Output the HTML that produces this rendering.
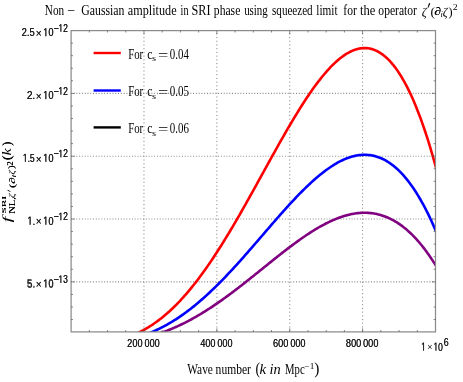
<!DOCTYPE html><html><head><meta charset="utf-8"><style>html,body{margin:0;padding:0;background:#fff}svg{display:block;will-change:transform}text{white-space:pre}</style></head><body>
<svg width="463" height="382" viewBox="0 0 463 382">
<rect width="463" height="382" fill="#fff"/>
<defs><clipPath id="c"><rect x="71.1" y="30.6" width="364.4" height="301.3"/></clipPath></defs>
<g stroke="#858585" fill="none">
<line x1="143.98" y1="331.9" x2="143.98" y2="30.6" stroke-width="1.0" stroke-dasharray="1.1 2.61" stroke-dashoffset="3.04"/>
<line x1="216.86" y1="331.9" x2="216.86" y2="30.6" stroke-width="1.0" stroke-dasharray="1.1 2.61" stroke-dashoffset="3.04"/>
<line x1="289.74" y1="331.9" x2="289.74" y2="30.6" stroke-width="1.0" stroke-dasharray="1.1 2.61" stroke-dashoffset="3.04"/>
<line x1="362.62" y1="331.9" x2="362.62" y2="30.6" stroke-width="1.0" stroke-dasharray="1.1 2.61" stroke-dashoffset="3.04"/>
<line x1="71.1" y1="281.85" x2="435.5" y2="281.85" stroke-width="1.1" stroke-dasharray="0.95 1.83" stroke-dashoffset="0.3"/>
<line x1="71.1" y1="219.03" x2="435.5" y2="219.03" stroke-width="1.1" stroke-dasharray="0.95 1.83" stroke-dashoffset="0.3"/>
<line x1="71.1" y1="156.20" x2="435.5" y2="156.20" stroke-width="1.1" stroke-dasharray="0.95 1.83" stroke-dashoffset="0.3"/>
<line x1="71.1" y1="93.38" x2="435.5" y2="93.38" stroke-width="1.1" stroke-dasharray="0.95 1.83" stroke-dashoffset="0.3"/>
</g>
<g clip-path="url(#c)" fill="none" stroke-width="2.6" stroke-linejoin="round">
<path d="M114.78,343.07 L116.24,342.90 L117.69,342.72 L119.15,342.54 L120.60,342.35 L122.06,342.15 L123.52,341.94 L124.97,341.73 L126.43,341.50 L127.88,341.27 L129.34,341.03 L130.80,340.77 L132.25,340.51 L133.71,340.24 L135.16,339.95 L136.62,339.66 L138.08,339.35 L139.53,339.04 L140.99,338.71 L142.44,338.37 L143.90,338.01 L145.36,337.65 L146.81,337.27 L148.27,336.89 L149.72,336.48 L151.18,336.07 L152.64,335.64 L154.09,335.20 L155.55,334.75 L157.00,334.28 L158.46,333.81 L159.92,333.31 L161.37,332.81 L162.83,332.29 L164.28,331.75 L165.74,331.21 L167.20,330.64 L168.65,330.07 L170.11,329.48 L171.56,328.88 L173.02,328.26 L174.48,327.63 L175.93,326.99 L177.39,326.33 L178.84,325.66 L180.30,324.98 L181.76,324.28 L183.21,323.57 L184.67,322.84 L186.12,322.10 L187.58,321.35 L189.04,320.58 L190.49,319.80 L191.95,319.01 L193.40,318.21 L194.86,317.39 L196.32,316.56 L197.77,315.71 L199.23,314.86 L200.68,313.99 L202.14,313.11 L203.60,312.21 L205.05,311.31 L206.51,310.39 L207.96,309.46 L209.42,308.52 L210.88,307.57 L212.33,306.61 L213.79,305.63 L215.24,304.65 L216.70,303.66 L218.16,302.65 L219.61,301.64 L221.07,300.61 L222.52,299.58 L223.98,298.54 L225.44,297.48 L226.89,296.42 L228.35,295.36 L229.80,294.28 L231.26,293.19 L232.72,292.10 L234.17,291.00 L235.63,289.90 L237.08,288.78 L238.54,287.66 L240.00,286.54 L241.45,285.41 L242.91,284.27 L244.36,283.13 L245.82,281.98 L247.28,280.83 L248.73,279.68 L250.19,278.52 L251.64,277.35 L253.10,276.19 L254.56,275.02 L256.01,273.85 L257.47,272.68 L258.92,271.51 L260.38,270.34 L261.84,269.16 L263.29,267.99 L264.75,266.81 L266.20,265.64 L267.66,264.46 L269.12,263.29 L270.57,262.12 L272.03,260.96 L273.48,259.79 L274.94,258.63 L276.40,257.47 L277.85,256.32 L279.31,255.17 L280.76,254.02 L282.22,252.88 L283.68,251.75 L285.13,250.62 L286.59,249.50 L288.04,248.39 L289.50,247.28 L290.96,246.18 L292.41,245.09 L293.87,244.01 L295.32,242.94 L296.78,241.88 L298.24,240.83 L299.69,239.79 L301.15,238.76 L302.60,237.74 L304.06,236.74 L305.52,235.75 L306.97,234.77 L308.43,233.81 L309.88,232.86 L311.34,231.93 L312.80,231.01 L314.25,230.11 L315.71,229.22 L317.16,228.35 L318.62,227.50 L320.08,226.67 L321.53,225.85 L322.99,225.06 L324.44,224.28 L325.90,223.53 L327.36,222.79 L328.81,222.08 L330.27,221.39 L331.72,220.72 L333.18,220.08 L334.64,219.45 L336.09,218.86 L337.55,218.28 L339.00,217.73 L340.46,217.21 L341.92,216.71 L343.37,216.24 L344.83,215.80 L346.28,215.38 L347.74,215.00 L349.20,214.64 L350.65,214.31 L352.11,214.01 L353.56,213.75 L355.02,213.51 L356.48,213.30 L357.93,213.13 L359.39,212.99 L360.84,212.89 L362.30,212.81 L363.76,212.78 L365.21,212.77 L366.67,212.80 L368.12,212.87 L369.58,212.98 L371.04,213.12 L372.49,213.30 L373.95,213.52 L375.40,213.78 L376.86,214.07 L378.32,214.41 L379.77,214.79 L381.23,215.20 L382.68,215.66 L384.14,216.17 L385.60,216.71 L387.05,217.30 L388.51,217.93 L389.96,218.61 L391.42,219.33 L392.88,220.09 L394.33,220.91 L395.79,221.76 L397.24,222.67 L398.70,223.62 L400.16,224.62 L401.61,225.67 L403.07,226.77 L404.52,227.92 L405.98,229.12 L407.44,230.37 L408.89,231.67 L410.35,233.02 L411.80,234.43 L413.26,235.89 L414.72,237.40 L416.17,238.96 L417.63,240.58 L419.08,242.25 L420.54,243.98 L422.00,245.77 L423.45,247.61 L424.91,249.51 L426.36,251.46 L427.82,253.47 L429.28,255.54 L430.73,257.67 L432.19,259.86 L433.64,262.11 L435.10,264.42 L436.56,266.79" stroke="#800080"/>
<path d="M114.78,342.43 L116.24,342.19 L117.69,341.93 L119.15,341.67 L120.60,341.39 L122.06,341.11 L123.52,340.81 L124.97,340.50 L126.43,340.17 L127.88,339.84 L129.34,339.49 L130.80,339.12 L132.25,338.74 L133.71,338.35 L135.16,337.94 L136.62,337.52 L138.08,337.08 L139.53,336.62 L140.99,336.15 L142.44,335.66 L143.90,335.15 L145.36,334.63 L146.81,334.08 L148.27,333.52 L149.72,332.95 L151.18,332.35 L152.64,331.74 L154.09,331.10 L155.55,330.45 L157.00,329.78 L158.46,329.09 L159.92,328.38 L161.37,327.65 L162.83,326.90 L164.28,326.13 L165.74,325.34 L167.20,324.54 L168.65,323.71 L170.11,322.86 L171.56,322.00 L173.02,321.11 L174.48,320.20 L175.93,319.28 L177.39,318.33 L178.84,317.36 L180.30,316.38 L181.76,315.37 L183.21,314.34 L184.67,313.30 L186.12,312.24 L187.58,311.15 L189.04,310.05 L190.49,308.93 L191.95,307.79 L193.40,306.63 L194.86,305.45 L196.32,304.25 L197.77,303.03 L199.23,301.80 L200.68,300.55 L202.14,299.28 L203.60,297.99 L205.05,296.69 L206.51,295.37 L207.96,294.03 L209.42,292.68 L210.88,291.31 L212.33,289.92 L213.79,288.52 L215.24,287.10 L216.70,285.67 L218.16,284.23 L219.61,282.77 L221.07,281.29 L222.52,279.80 L223.98,278.30 L225.44,276.79 L226.89,275.26 L228.35,273.72 L229.80,272.17 L231.26,270.61 L232.72,269.04 L234.17,267.45 L235.63,265.86 L237.08,264.26 L238.54,262.64 L240.00,261.02 L241.45,259.39 L242.91,257.76 L244.36,256.11 L245.82,254.46 L247.28,252.80 L248.73,251.14 L250.19,249.47 L251.64,247.80 L253.10,246.12 L254.56,244.44 L256.01,242.76 L257.47,241.07 L258.92,239.38 L260.38,237.69 L261.84,236.00 L263.29,234.31 L264.75,232.62 L266.20,230.93 L267.66,229.24 L269.12,227.55 L270.57,225.87 L272.03,224.19 L273.48,222.51 L274.94,220.84 L276.40,219.17 L277.85,217.50 L279.31,215.85 L280.76,214.20 L282.22,212.56 L283.68,210.93 L285.13,209.30 L286.59,207.69 L288.04,206.08 L289.50,204.49 L290.96,202.91 L292.41,201.34 L293.87,199.78 L295.32,198.24 L296.78,196.71 L298.24,195.20 L299.69,193.70 L301.15,192.22 L302.60,190.76 L304.06,189.31 L305.52,187.89 L306.97,186.48 L308.43,185.09 L309.88,183.73 L311.34,182.38 L312.80,181.06 L314.25,179.76 L315.71,178.49 L317.16,177.24 L318.62,176.01 L320.08,174.81 L321.53,173.64 L322.99,172.49 L324.44,171.38 L325.90,170.29 L327.36,169.23 L328.81,168.21 L330.27,167.21 L331.72,166.25 L333.18,165.32 L334.64,164.42 L336.09,163.56 L337.55,162.73 L339.00,161.94 L340.46,161.19 L341.92,160.48 L343.37,159.80 L344.83,159.16 L346.28,158.56 L347.74,158.01 L349.20,157.49 L350.65,157.02 L352.11,156.59 L353.56,156.20 L355.02,155.86 L356.48,155.57 L357.93,155.32 L359.39,155.12 L360.84,154.96 L362.30,154.86 L363.76,154.81 L365.21,154.80 L366.67,154.85 L368.12,154.95 L369.58,155.10 L371.04,155.30 L372.49,155.56 L373.95,155.88 L375.40,156.25 L376.86,156.67 L378.32,157.16 L379.77,157.70 L381.23,158.30 L382.68,158.97 L384.14,159.69 L385.60,160.47 L387.05,161.32 L388.51,162.23 L389.96,163.20 L391.42,164.24 L392.88,165.34 L394.33,166.51 L395.79,167.75 L397.24,169.05 L398.70,170.43 L400.16,171.87 L401.61,173.38 L403.07,174.96 L404.52,176.62 L405.98,178.34 L407.44,180.14 L408.89,182.01 L410.35,183.96 L411.80,185.99 L413.26,188.08 L414.72,190.26 L416.17,192.51 L417.63,194.84 L419.08,197.25 L420.54,199.74 L422.00,202.31 L423.45,204.96 L424.91,207.70 L426.36,210.51 L427.82,213.41 L429.28,216.39 L430.73,219.46 L432.19,222.61 L433.64,225.85 L435.10,229.18 L436.56,232.59" stroke="#0000ff"/>
<path d="M114.78,341.25 L116.24,340.87 L117.69,340.47 L119.15,340.06 L120.60,339.63 L122.06,339.18 L123.52,338.72 L124.97,338.23 L126.43,337.73 L127.88,337.20 L129.34,336.65 L130.80,336.08 L132.25,335.49 L133.71,334.88 L135.16,334.24 L136.62,333.57 L138.08,332.89 L139.53,332.17 L140.99,331.43 L142.44,330.67 L143.90,329.88 L145.36,329.06 L146.81,328.21 L148.27,327.34 L149.72,326.43 L151.18,325.50 L152.64,324.54 L154.09,323.55 L155.55,322.53 L157.00,321.48 L158.46,320.41 L159.92,319.30 L161.37,318.16 L162.83,316.99 L164.28,315.79 L165.74,314.56 L167.20,313.29 L168.65,312.00 L170.11,310.68 L171.56,309.32 L173.02,307.94 L174.48,306.52 L175.93,305.07 L177.39,303.59 L178.84,302.08 L180.30,300.54 L181.76,298.97 L183.21,297.37 L184.67,295.74 L186.12,294.07 L187.58,292.38 L189.04,290.66 L190.49,288.90 L191.95,287.12 L193.40,285.31 L194.86,283.47 L196.32,281.60 L197.77,279.70 L199.23,277.77 L200.68,275.81 L202.14,273.83 L203.60,271.82 L205.05,269.78 L206.51,267.72 L207.96,265.63 L209.42,263.52 L210.88,261.37 L212.33,259.21 L213.79,257.02 L215.24,254.81 L216.70,252.57 L218.16,250.31 L219.61,248.03 L221.07,245.72 L222.52,243.40 L223.98,241.05 L225.44,238.68 L226.89,236.30 L228.35,233.89 L229.80,231.47 L231.26,229.03 L232.72,226.57 L234.17,224.10 L235.63,221.61 L237.08,219.10 L238.54,216.58 L240.00,214.05 L241.45,211.51 L242.91,208.95 L244.36,206.38 L245.82,203.80 L247.28,201.21 L248.73,198.61 L250.19,196.01 L251.64,193.39 L253.10,190.77 L254.56,188.15 L256.01,185.51 L257.47,182.88 L258.92,180.24 L260.38,177.60 L261.84,174.96 L263.29,172.31 L264.75,169.67 L266.20,167.03 L267.66,164.39 L269.12,161.75 L270.57,159.12 L272.03,156.49 L273.48,153.87 L274.94,151.26 L276.40,148.65 L277.85,146.06 L279.31,143.47 L280.76,140.89 L282.22,138.33 L283.68,135.78 L285.13,133.24 L286.59,130.72 L288.04,128.21 L289.50,125.72 L290.96,123.25 L292.41,120.80 L293.87,118.37 L295.32,115.96 L296.78,113.57 L298.24,111.21 L299.69,108.87 L301.15,106.55 L302.60,104.27 L304.06,102.01 L305.52,99.78 L306.97,97.58 L308.43,95.41 L309.88,93.28 L311.34,91.18 L312.80,89.11 L314.25,87.08 L315.71,85.09 L317.16,83.14 L318.62,81.22 L320.08,79.35 L321.53,77.52 L322.99,75.73 L324.44,73.98 L325.90,72.28 L327.36,70.63 L328.81,69.03 L330.27,67.47 L331.72,65.97 L333.18,64.51 L334.64,63.11 L336.09,61.77 L337.55,60.48 L339.00,59.24 L340.46,58.07 L341.92,56.95 L343.37,55.89 L344.83,54.89 L346.28,53.96 L347.74,53.09 L349.20,52.28 L350.65,51.55 L352.11,50.88 L353.56,50.27 L355.02,49.74 L356.48,49.28 L357.93,48.89 L359.39,48.58 L360.84,48.34 L362.30,48.17 L363.76,48.09 L365.21,48.08 L366.67,48.15 L368.12,48.31 L369.58,48.54 L371.04,48.86 L372.49,49.27 L373.95,49.76 L375.40,50.34 L376.86,51.01 L378.32,51.76 L379.77,52.61 L381.23,53.55 L382.68,54.59 L384.14,55.72 L385.60,56.94 L387.05,58.27 L388.51,59.69 L389.96,61.21 L391.42,62.83 L392.88,64.55 L394.33,66.38 L395.79,68.31 L397.24,70.35 L398.70,72.50 L400.16,74.75 L401.61,77.11 L403.07,79.58 L404.52,82.17 L405.98,84.86 L407.44,87.68 L408.89,90.60 L410.35,93.65 L411.80,96.81 L413.26,100.09 L414.72,103.48 L416.17,107.01 L417.63,110.65 L419.08,114.41 L420.54,118.30 L422.00,122.32 L423.45,126.46 L424.91,130.73 L426.36,135.13 L427.82,139.66 L429.28,144.32 L430.73,149.11 L432.19,154.04 L433.64,159.10 L435.10,164.29 L436.56,169.62" stroke="#ff0000"/>
</g>
<rect x="71.1" y="30.6" width="364.4" height="301.3" fill="none" stroke="#8c8c8c" stroke-width="1.25"/>
<g stroke="#555" stroke-width="0.7">
<line x1="89.32" y1="331.9" x2="89.32" y2="330.0"/>
<line x1="89.32" y1="30.6" x2="89.32" y2="32.5"/>
<line x1="107.54" y1="331.9" x2="107.54" y2="330.0"/>
<line x1="107.54" y1="30.6" x2="107.54" y2="32.5"/>
<line x1="125.76" y1="331.9" x2="125.76" y2="330.0"/>
<line x1="125.76" y1="30.6" x2="125.76" y2="32.5"/>
<line x1="143.98" y1="331.9" x2="143.98" y2="328.3"/>
<line x1="143.98" y1="30.6" x2="143.98" y2="34.1"/>
<line x1="162.20" y1="331.9" x2="162.20" y2="330.0"/>
<line x1="162.20" y1="30.6" x2="162.20" y2="32.5"/>
<line x1="180.42" y1="331.9" x2="180.42" y2="330.0"/>
<line x1="180.42" y1="30.6" x2="180.42" y2="32.5"/>
<line x1="198.64" y1="331.9" x2="198.64" y2="330.0"/>
<line x1="198.64" y1="30.6" x2="198.64" y2="32.5"/>
<line x1="216.86" y1="331.9" x2="216.86" y2="328.3"/>
<line x1="216.86" y1="30.6" x2="216.86" y2="34.1"/>
<line x1="235.08" y1="331.9" x2="235.08" y2="330.0"/>
<line x1="235.08" y1="30.6" x2="235.08" y2="32.5"/>
<line x1="253.30" y1="331.9" x2="253.30" y2="330.0"/>
<line x1="253.30" y1="30.6" x2="253.30" y2="32.5"/>
<line x1="271.52" y1="331.9" x2="271.52" y2="330.0"/>
<line x1="271.52" y1="30.6" x2="271.52" y2="32.5"/>
<line x1="289.74" y1="331.9" x2="289.74" y2="328.3"/>
<line x1="289.74" y1="30.6" x2="289.74" y2="34.1"/>
<line x1="307.96" y1="331.9" x2="307.96" y2="330.0"/>
<line x1="307.96" y1="30.6" x2="307.96" y2="32.5"/>
<line x1="326.18" y1="331.9" x2="326.18" y2="330.0"/>
<line x1="326.18" y1="30.6" x2="326.18" y2="32.5"/>
<line x1="344.40" y1="331.9" x2="344.40" y2="330.0"/>
<line x1="344.40" y1="30.6" x2="344.40" y2="32.5"/>
<line x1="362.62" y1="331.9" x2="362.62" y2="328.3"/>
<line x1="362.62" y1="30.6" x2="362.62" y2="34.1"/>
<line x1="380.84" y1="331.9" x2="380.84" y2="330.0"/>
<line x1="380.84" y1="30.6" x2="380.84" y2="32.5"/>
<line x1="399.06" y1="331.9" x2="399.06" y2="330.0"/>
<line x1="399.06" y1="30.6" x2="399.06" y2="32.5"/>
<line x1="417.28" y1="331.9" x2="417.28" y2="330.0"/>
<line x1="417.28" y1="30.6" x2="417.28" y2="32.5"/>
<line x1="71.1" y1="319.55" x2="73.0" y2="319.55"/>
<line x1="435.5" y1="319.55" x2="433.6" y2="319.55"/>
<line x1="71.1" y1="306.98" x2="73.0" y2="306.98"/>
<line x1="435.5" y1="306.98" x2="433.6" y2="306.98"/>
<line x1="71.1" y1="294.42" x2="73.0" y2="294.42"/>
<line x1="435.5" y1="294.42" x2="433.6" y2="294.42"/>
<line x1="71.1" y1="281.85" x2="74.7" y2="281.85"/>
<line x1="435.5" y1="281.85" x2="431.9" y2="281.85"/>
<line x1="71.1" y1="269.28" x2="73.0" y2="269.28"/>
<line x1="435.5" y1="269.28" x2="433.6" y2="269.28"/>
<line x1="71.1" y1="256.72" x2="73.0" y2="256.72"/>
<line x1="435.5" y1="256.72" x2="433.6" y2="256.72"/>
<line x1="71.1" y1="244.16" x2="73.0" y2="244.16"/>
<line x1="435.5" y1="244.16" x2="433.6" y2="244.16"/>
<line x1="71.1" y1="231.59" x2="73.0" y2="231.59"/>
<line x1="435.5" y1="231.59" x2="433.6" y2="231.59"/>
<line x1="71.1" y1="219.03" x2="74.7" y2="219.03"/>
<line x1="435.5" y1="219.03" x2="431.9" y2="219.03"/>
<line x1="71.1" y1="206.46" x2="73.0" y2="206.46"/>
<line x1="435.5" y1="206.46" x2="433.6" y2="206.46"/>
<line x1="71.1" y1="193.90" x2="73.0" y2="193.90"/>
<line x1="435.5" y1="193.90" x2="433.6" y2="193.90"/>
<line x1="71.1" y1="181.33" x2="73.0" y2="181.33"/>
<line x1="435.5" y1="181.33" x2="433.6" y2="181.33"/>
<line x1="71.1" y1="168.77" x2="73.0" y2="168.77"/>
<line x1="435.5" y1="168.77" x2="433.6" y2="168.77"/>
<line x1="71.1" y1="156.20" x2="74.7" y2="156.20"/>
<line x1="435.5" y1="156.20" x2="431.9" y2="156.20"/>
<line x1="71.1" y1="143.63" x2="73.0" y2="143.63"/>
<line x1="435.5" y1="143.63" x2="433.6" y2="143.63"/>
<line x1="71.1" y1="131.07" x2="73.0" y2="131.07"/>
<line x1="435.5" y1="131.07" x2="433.6" y2="131.07"/>
<line x1="71.1" y1="118.50" x2="73.0" y2="118.50"/>
<line x1="435.5" y1="118.50" x2="433.6" y2="118.50"/>
<line x1="71.1" y1="105.94" x2="73.0" y2="105.94"/>
<line x1="435.5" y1="105.94" x2="433.6" y2="105.94"/>
<line x1="71.1" y1="93.38" x2="74.7" y2="93.38"/>
<line x1="435.5" y1="93.38" x2="431.9" y2="93.38"/>
<line x1="71.1" y1="80.81" x2="73.0" y2="80.81"/>
<line x1="435.5" y1="80.81" x2="433.6" y2="80.81"/>
<line x1="71.1" y1="68.25" x2="73.0" y2="68.25"/>
<line x1="435.5" y1="68.25" x2="433.6" y2="68.25"/>
<line x1="71.1" y1="55.68" x2="73.0" y2="55.68"/>
<line x1="435.5" y1="55.68" x2="433.6" y2="55.68"/>
<line x1="71.1" y1="43.12" x2="73.0" y2="43.12"/>
<line x1="435.5" y1="43.12" x2="433.6" y2="43.12"/>
</g>
<line x1="93.6" y1="53.0" x2="120.8" y2="53.0" stroke="#ff0000" stroke-width="2.4"/>
<line x1="93.6" y1="90.5" x2="120.8" y2="90.5" stroke="#0000ff" stroke-width="2.4"/>
<line x1="93.6" y1="127.4" x2="120.8" y2="127.4" stroke="#000000" stroke-width="2.4"/>
<path d="M429.0 3.0 L430.3 3.5 L428.2 7.9 L427.6 7.6 Z" fill="#000"/>
<path d="M7.4 190.4 L7.9 189.7 L10.6 191.6 L10.3 192.0 Z" fill="#000"/>
<g>
<text transform="matrix(0.1122 0 0 0.1450 44.86 14.90)" font-family="Liberation Serif" font-size="100" fill="#000">Non</text>
<text transform="matrix(0.1398 0 0 0.1450 67.10 14.90)" font-family="Liberation Serif" font-size="100" fill="#000">−</text>
<text transform="matrix(0.1177 0 0 0.1450 81.33 14.90)" font-family="Liberation Serif" font-size="100" fill="#000">Gaussian</text>
<text transform="matrix(0.1219 0 0 0.1450 127.87 14.90)" font-family="Liberation Serif" font-size="100" fill="#000">amplitude</text>
<text transform="matrix(0.1014 0 0 0.1450 180.60 14.90)" font-family="Liberation Serif" font-size="100" fill="#000">in</text>
<text transform="matrix(0.1223 0 0 0.1450 191.50 14.90)" font-family="Liberation Serif" font-size="100" fill="#000">SRI</text>
<text transform="matrix(0.1164 0 0 0.1450 213.83 14.90)" font-family="Liberation Serif" font-size="100" fill="#000">phase</text>
<text transform="matrix(0.1091 0 0 0.1450 244.14 14.90)" font-family="Liberation Serif" font-size="100" fill="#000">using</text>
<text transform="matrix(0.1109 0 0 0.1450 272.06 14.90)" font-family="Liberation Serif" font-size="100" fill="#000">squeezed</text>
<text transform="matrix(0.1126 0 0 0.1450 316.37 14.90)" font-family="Liberation Serif" font-size="100" fill="#000">limit</text>
<text transform="matrix(0.1156 0 0 0.1450 343.35 14.90)" font-family="Liberation Serif" font-size="100" fill="#000">for</text>
<text transform="matrix(0.1251 0 0 0.1450 359.97 14.90)" font-family="Liberation Serif" font-size="100" fill="#000">the</text>
<text transform="matrix(0.1160 0 0 0.1450 378.34 14.90)" font-family="Liberation Serif" font-size="100" fill="#000">operator</text>
<text transform="matrix(0.1209 0 0 0.1241 421.64 15.59)" font-family="Liberation Serif" font-size="100" font-style="italic" fill="#000">ζ</text>
<text transform="matrix(0.1333 0 0 0.1267 430.60 15.64)" font-family="Liberation Serif" font-size="100" fill="#000">(</text>
<text transform="matrix(0.1357 0 0 0.1116 434.45 15.39)" font-family="Liberation Serif" font-size="100" fill="#000">∂</text><text transform="matrix(0.1357 0 0 0.1116 434.60 15.48)" font-family="Liberation Serif" font-size="100" fill="#000">∂</text>
<text transform="matrix(0.0842 0 0 0.0788 440.44 17.20)" font-family="Liberation Serif" font-size="100" font-style="italic" fill="#000">i</text>
<text transform="matrix(0.1186 0 0 0.1241 442.84 15.59)" font-family="Liberation Serif" font-size="100" font-style="italic" fill="#000">ζ</text>
<text transform="matrix(0.1231 0 0 0.1267 448.53 15.64)" font-family="Liberation Serif" font-size="100" fill="#000">)</text>
<text transform="matrix(0.0975 0 0 0.0879 452.86 9.80)" font-family="Liberation Serif" font-size="100" fill="#000">2</text>
<text transform="matrix(0.1138 0 0 0.1450 187.30 374.00)" font-family="Liberation Serif" font-size="100" fill="#000">Wave</text>
<text transform="matrix(0.1156 0 0 0.1450 215.61 374.00)" font-family="Liberation Serif" font-size="100" fill="#000">number</text>
<text transform="matrix(0.1373 0 0 0.1633 255.38 374.07)" font-family="Liberation Serif" font-size="100" fill="#000">(</text>
<text transform="matrix(0.1488 0 0 0.1450 259.55 374.00)" font-family="Liberation Serif" font-size="100" font-style="italic" fill="#000">k</text>
<text transform="matrix(0.1441 0 0 0.1450 269.61 374.00)" font-family="Liberation Serif" font-size="100" font-style="italic" fill="#000">in</text>
<text transform="matrix(0.1073 0 0 0.1450 285.08 374.00)" font-family="Liberation Serif" font-size="100" fill="#000">Mpc</text>
<text transform="matrix(0.0932 0 0 0.0840 304.53 368.80)" font-family="Liberation Serif" font-size="100" fill="#000">−1</text>
<text transform="matrix(0.1538 0 0 0.1633 314.34 374.07)" font-family="Liberation Serif" font-size="100" fill="#000">)</text>
<text transform="matrix(0.1081 0 0 0.1430 128.18 58.70)" font-family="Liberation Serif" font-size="100" fill="#000">For</text>
<text transform="matrix(0.1173 0 0 0.1430 147.13 58.70)" font-family="Liberation Serif" font-size="100" fill="#000">c</text>
<text transform="matrix(0.1048 0 0 0.0885 152.08 61.41)" font-family="Liberation Serif" font-size="100" fill="#000">s</text>
<text transform="matrix(0.1828 0 0 0.1430 157.99 59.60)" font-family="Liberation Serif" font-size="100" fill="#000">=</text>
<text transform="matrix(0.1086 0 0 0.1430 169.87 58.70)" font-family="Liberation Serif" font-size="100" fill="#000">0.04</text>
<text transform="matrix(0.1081 0 0 0.1430 128.18 95.90)" font-family="Liberation Serif" font-size="100" fill="#000">For</text>
<text transform="matrix(0.1173 0 0 0.1430 147.13 95.90)" font-family="Liberation Serif" font-size="100" fill="#000">c</text>
<text transform="matrix(0.1048 0 0 0.0885 152.08 98.61)" font-family="Liberation Serif" font-size="100" fill="#000">s</text>
<text transform="matrix(0.1828 0 0 0.1430 157.99 96.80)" font-family="Liberation Serif" font-size="100" fill="#000">=</text>
<text transform="matrix(0.1102 0 0 0.1430 169.86 95.90)" font-family="Liberation Serif" font-size="100" fill="#000">0.05</text>
<text transform="matrix(0.1081 0 0 0.1430 128.18 133.20)" font-family="Liberation Serif" font-size="100" fill="#000">For</text>
<text transform="matrix(0.1173 0 0 0.1430 147.13 133.20)" font-family="Liberation Serif" font-size="100" fill="#000">c</text>
<text transform="matrix(0.1048 0 0 0.0885 152.08 135.91)" font-family="Liberation Serif" font-size="100" fill="#000">s</text>
<text transform="matrix(0.1828 0 0 0.1430 157.99 134.10)" font-family="Liberation Serif" font-size="100" fill="#000">=</text>
<text transform="matrix(0.1095 0 0 0.1430 169.86 133.20)" font-family="Liberation Serif" font-size="100" fill="#000">0.06</text>
<text transform="matrix(0.0946 0 0 0.1170 21.53 36.19)" font-family="Liberation Sans" font-size="100" fill="#1a1a1a">2.5</text><text transform="matrix(0.0946 0 0 0.1170 21.73 36.31)" font-family="Liberation Sans" font-size="100" fill="#1a1a1a">2.5</text>
<text transform="matrix(0.1011 0 0 0.1034 35.64 36.86)" font-family="Liberation Sans" font-size="100" fill="#1a1a1a">×</text><text transform="matrix(0.1011 0 0 0.1034 35.74 36.92)" font-family="Liberation Sans" font-size="100" fill="#1a1a1a">×</text>
<g transform="matrix(0.0940 0 0 0.1170 42.99 36.19)" fill="#1a1a1a"><path transform="translate(0.00 0) scale(0.04883 -0.04883)" d="M515 0V1237L197 1010V1180L530 1409H696V0Z"/><text x="55.62" font-family="Liberation Sans" font-size="100">0</text></g><g transform="matrix(0.0940 0 0 0.1170 43.20 36.31)" fill="#1a1a1a"><path transform="translate(0.00 0) scale(0.04883 -0.04883)" d="M515 0V1237L197 1010V1180L530 1409H696V0Z"/><text x="55.62" font-family="Liberation Sans" font-size="100">0</text></g>
<text transform="matrix(0.0928 0 0 0.1090 53.41 31.73)" font-family="Liberation Sans" font-size="100" fill="#1a1a1a">−</text><text transform="matrix(0.0928 0 0 0.1090 53.46 31.77)" font-family="Liberation Sans" font-size="100" fill="#1a1a1a">−</text>
<g transform="matrix(0.0863 0 0 0.1090 58.25 31.69)" fill="#1a1a1a"><path transform="translate(0.00 0) scale(0.04883 -0.04883)" d="M515 0V1237L197 1010V1180L530 1409H696V0Z"/><text x="55.62" font-family="Liberation Sans" font-size="100">2</text></g><g transform="matrix(0.0863 0 0 0.1090 58.45 31.81)" fill="#1a1a1a"><path transform="translate(0.00 0) scale(0.04883 -0.04883)" d="M515 0V1237L197 1010V1180L530 1409H696V0Z"/><text x="55.62" font-family="Liberation Sans" font-size="100">2</text></g>
<text transform="matrix(0.1022 0 0 0.1170 26.69 99.02)" font-family="Liberation Sans" font-size="100" fill="#1a1a1a">2.</text><text transform="matrix(0.1022 0 0 0.1170 26.89 99.14)" font-family="Liberation Sans" font-size="100" fill="#1a1a1a">2.</text>
<text transform="matrix(0.1011 0 0 0.1034 35.64 99.68)" font-family="Liberation Sans" font-size="100" fill="#1a1a1a">×</text><text transform="matrix(0.1011 0 0 0.1034 35.74 99.74)" font-family="Liberation Sans" font-size="100" fill="#1a1a1a">×</text>
<g transform="matrix(0.0940 0 0 0.1170 42.99 99.02)" fill="#1a1a1a"><path transform="translate(0.00 0) scale(0.04883 -0.04883)" d="M515 0V1237L197 1010V1180L530 1409H696V0Z"/><text x="55.62" font-family="Liberation Sans" font-size="100">0</text></g><g transform="matrix(0.0940 0 0 0.1170 43.20 99.14)" fill="#1a1a1a"><path transform="translate(0.00 0) scale(0.04883 -0.04883)" d="M515 0V1237L197 1010V1180L530 1409H696V0Z"/><text x="55.62" font-family="Liberation Sans" font-size="100">0</text></g>
<text transform="matrix(0.0928 0 0 0.1090 53.41 94.56)" font-family="Liberation Sans" font-size="100" fill="#1a1a1a">−</text><text transform="matrix(0.0928 0 0 0.1090 53.46 94.59)" font-family="Liberation Sans" font-size="100" fill="#1a1a1a">−</text>
<g transform="matrix(0.0863 0 0 0.1090 58.25 94.52)" fill="#1a1a1a"><path transform="translate(0.00 0) scale(0.04883 -0.04883)" d="M515 0V1237L197 1010V1180L530 1409H696V0Z"/><text x="55.62" font-family="Liberation Sans" font-size="100">2</text></g><g transform="matrix(0.0863 0 0 0.1090 58.45 94.64)" fill="#1a1a1a"><path transform="translate(0.00 0) scale(0.04883 -0.04883)" d="M515 0V1237L197 1010V1180L530 1409H696V0Z"/><text x="55.62" font-family="Liberation Sans" font-size="100">2</text></g>
<g transform="matrix(0.0863 0 0 0.1170 22.65 161.84)" fill="#1a1a1a"><path transform="translate(0.00 0) scale(0.04883 -0.04883)" d="M515 0V1237L197 1010V1180L530 1409H696V0Z"/><text x="55.62" font-family="Liberation Sans" font-size="100">.</text><text x="83.40" font-family="Liberation Sans" font-size="100">5</text></g><g transform="matrix(0.0863 0 0 0.1170 22.85 161.96)" fill="#1a1a1a"><path transform="translate(0.00 0) scale(0.04883 -0.04883)" d="M515 0V1237L197 1010V1180L530 1409H696V0Z"/><text x="55.62" font-family="Liberation Sans" font-size="100">.</text><text x="83.40" font-family="Liberation Sans" font-size="100">5</text></g>
<text transform="matrix(0.1011 0 0 0.1034 35.64 162.51)" font-family="Liberation Sans" font-size="100" fill="#1a1a1a">×</text><text transform="matrix(0.1011 0 0 0.1034 35.74 162.57)" font-family="Liberation Sans" font-size="100" fill="#1a1a1a">×</text>
<g transform="matrix(0.0940 0 0 0.1170 42.99 161.84)" fill="#1a1a1a"><path transform="translate(0.00 0) scale(0.04883 -0.04883)" d="M515 0V1237L197 1010V1180L530 1409H696V0Z"/><text x="55.62" font-family="Liberation Sans" font-size="100">0</text></g><g transform="matrix(0.0940 0 0 0.1170 43.20 161.96)" fill="#1a1a1a"><path transform="translate(0.00 0) scale(0.04883 -0.04883)" d="M515 0V1237L197 1010V1180L530 1409H696V0Z"/><text x="55.62" font-family="Liberation Sans" font-size="100">0</text></g>
<text transform="matrix(0.0928 0 0 0.1090 53.41 157.38)" font-family="Liberation Sans" font-size="100" fill="#1a1a1a">−</text><text transform="matrix(0.0928 0 0 0.1090 53.46 157.41)" font-family="Liberation Sans" font-size="100" fill="#1a1a1a">−</text>
<g transform="matrix(0.0863 0 0 0.1090 58.25 157.34)" fill="#1a1a1a"><path transform="translate(0.00 0) scale(0.04883 -0.04883)" d="M515 0V1237L197 1010V1180L530 1409H696V0Z"/><text x="55.62" font-family="Liberation Sans" font-size="100">2</text></g><g transform="matrix(0.0863 0 0 0.1090 58.45 157.46)" fill="#1a1a1a"><path transform="translate(0.00 0) scale(0.04883 -0.04883)" d="M515 0V1237L197 1010V1180L530 1409H696V0Z"/><text x="55.62" font-family="Liberation Sans" font-size="100">2</text></g>
<g transform="matrix(0.0955 0 0 0.1170 27.18 224.66)" fill="#1a1a1a"><path transform="translate(0.00 0) scale(0.04883 -0.04883)" d="M515 0V1237L197 1010V1180L530 1409H696V0Z"/><text x="55.62" font-family="Liberation Sans" font-size="100">.</text></g><g transform="matrix(0.0955 0 0 0.1170 27.38 224.78)" fill="#1a1a1a"><path transform="translate(0.00 0) scale(0.04883 -0.04883)" d="M515 0V1237L197 1010V1180L530 1409H696V0Z"/><text x="55.62" font-family="Liberation Sans" font-size="100">.</text></g>
<text transform="matrix(0.1011 0 0 0.1034 35.64 225.33)" font-family="Liberation Sans" font-size="100" fill="#1a1a1a">×</text><text transform="matrix(0.1011 0 0 0.1034 35.74 225.39)" font-family="Liberation Sans" font-size="100" fill="#1a1a1a">×</text>
<g transform="matrix(0.0940 0 0 0.1170 42.99 224.66)" fill="#1a1a1a"><path transform="translate(0.00 0) scale(0.04883 -0.04883)" d="M515 0V1237L197 1010V1180L530 1409H696V0Z"/><text x="55.62" font-family="Liberation Sans" font-size="100">0</text></g><g transform="matrix(0.0940 0 0 0.1170 43.20 224.78)" fill="#1a1a1a"><path transform="translate(0.00 0) scale(0.04883 -0.04883)" d="M515 0V1237L197 1010V1180L530 1409H696V0Z"/><text x="55.62" font-family="Liberation Sans" font-size="100">0</text></g>
<text transform="matrix(0.0928 0 0 0.1090 53.41 220.21)" font-family="Liberation Sans" font-size="100" fill="#1a1a1a">−</text><text transform="matrix(0.0928 0 0 0.1090 53.46 220.24)" font-family="Liberation Sans" font-size="100" fill="#1a1a1a">−</text>
<g transform="matrix(0.0863 0 0 0.1090 58.25 220.16)" fill="#1a1a1a"><path transform="translate(0.00 0) scale(0.04883 -0.04883)" d="M515 0V1237L197 1010V1180L530 1409H696V0Z"/><text x="55.62" font-family="Liberation Sans" font-size="100">2</text></g><g transform="matrix(0.0863 0 0 0.1090 58.45 220.28)" fill="#1a1a1a"><path transform="translate(0.00 0) scale(0.04883 -0.04883)" d="M515 0V1237L197 1010V1180L530 1409H696V0Z"/><text x="55.62" font-family="Liberation Sans" font-size="100">2</text></g>
<text transform="matrix(0.1007 0 0 0.1170 26.80 287.49)" font-family="Liberation Sans" font-size="100" fill="#1a1a1a">5.</text><text transform="matrix(0.1007 0 0 0.1170 27.00 287.61)" font-family="Liberation Sans" font-size="100" fill="#1a1a1a">5.</text>
<text transform="matrix(0.1011 0 0 0.1034 35.64 288.16)" font-family="Liberation Sans" font-size="100" fill="#1a1a1a">×</text><text transform="matrix(0.1011 0 0 0.1034 35.74 288.22)" font-family="Liberation Sans" font-size="100" fill="#1a1a1a">×</text>
<g transform="matrix(0.0940 0 0 0.1170 42.99 287.49)" fill="#1a1a1a"><path transform="translate(0.00 0) scale(0.04883 -0.04883)" d="M515 0V1237L197 1010V1180L530 1409H696V0Z"/><text x="55.62" font-family="Liberation Sans" font-size="100">0</text></g><g transform="matrix(0.0940 0 0 0.1170 43.20 287.61)" fill="#1a1a1a"><path transform="translate(0.00 0) scale(0.04883 -0.04883)" d="M515 0V1237L197 1010V1180L530 1409H696V0Z"/><text x="55.62" font-family="Liberation Sans" font-size="100">0</text></g>
<text transform="matrix(0.0928 0 0 0.1090 53.41 283.03)" font-family="Liberation Sans" font-size="100" fill="#1a1a1a">−</text><text transform="matrix(0.0928 0 0 0.1090 53.46 283.06)" font-family="Liberation Sans" font-size="100" fill="#1a1a1a">−</text>
<g transform="matrix(0.0854 0 0 0.1090 58.26 282.99)" fill="#1a1a1a"><path transform="translate(0.00 0) scale(0.04883 -0.04883)" d="M515 0V1237L197 1010V1180L530 1409H696V0Z"/><text x="55.62" font-family="Liberation Sans" font-size="100">3</text></g><g transform="matrix(0.0854 0 0 0.1090 58.46 283.11)" fill="#1a1a1a"><path transform="translate(0.00 0) scale(0.04883 -0.04883)" d="M515 0V1237L197 1010V1180L530 1409H696V0Z"/><text x="55.62" font-family="Liberation Sans" font-size="100">3</text></g>
<text transform="matrix(0.0924 0 0 0.1170 127.12 347.14)" font-family="Liberation Sans" font-size="100" fill="#1a1a1a">200</text><text transform="matrix(0.0924 0 0 0.1170 127.32 347.26)" font-family="Liberation Sans" font-size="100" fill="#1a1a1a">200</text>
<text transform="matrix(0.0912 0 0 0.1170 144.42 347.14)" font-family="Liberation Sans" font-size="100" fill="#1a1a1a">000</text><text transform="matrix(0.0912 0 0 0.1170 144.62 347.26)" font-family="Liberation Sans" font-size="100" fill="#1a1a1a">000</text>
<text transform="matrix(0.0910 0 0 0.1170 200.23 347.14)" font-family="Liberation Sans" font-size="100" fill="#1a1a1a">400</text><text transform="matrix(0.0910 0 0 0.1170 200.43 347.26)" font-family="Liberation Sans" font-size="100" fill="#1a1a1a">400</text>
<text transform="matrix(0.0912 0 0 0.1170 217.30 347.14)" font-family="Liberation Sans" font-size="100" fill="#1a1a1a">000</text><text transform="matrix(0.0912 0 0 0.1170 217.50 347.26)" font-family="Liberation Sans" font-size="100" fill="#1a1a1a">000</text>
<text transform="matrix(0.0924 0 0 0.1170 272.88 347.14)" font-family="Liberation Sans" font-size="100" fill="#1a1a1a">600</text><text transform="matrix(0.0924 0 0 0.1170 273.08 347.26)" font-family="Liberation Sans" font-size="100" fill="#1a1a1a">600</text>
<text transform="matrix(0.0912 0 0 0.1170 290.18 347.14)" font-family="Liberation Sans" font-size="100" fill="#1a1a1a">000</text><text transform="matrix(0.0912 0 0 0.1170 290.38 347.26)" font-family="Liberation Sans" font-size="100" fill="#1a1a1a">000</text>
<text transform="matrix(0.0921 0 0 0.1170 345.81 347.14)" font-family="Liberation Sans" font-size="100" fill="#1a1a1a">800</text><text transform="matrix(0.0921 0 0 0.1170 346.01 347.26)" font-family="Liberation Sans" font-size="100" fill="#1a1a1a">800</text>
<text transform="matrix(0.0912 0 0 0.1170 363.06 347.14)" font-family="Liberation Sans" font-size="100" fill="#1a1a1a">000</text><text transform="matrix(0.0912 0 0 0.1170 363.26 347.26)" font-family="Liberation Sans" font-size="100" fill="#1a1a1a">000</text>
<g transform="matrix(0.0814 0 0 0.1170 421.09 350.64)" fill="#1a1a1a"><path transform="translate(0.00 0) scale(0.04883 -0.04883)" d="M515 0V1237L197 1010V1180L530 1409H696V0Z"/></g><g transform="matrix(0.0814 0 0 0.1170 421.29 350.76)" fill="#1a1a1a"><path transform="translate(0.00 0) scale(0.04883 -0.04883)" d="M515 0V1237L197 1010V1180L530 1409H696V0Z"/></g>
<text transform="matrix(0.0899 0 0 0.0989 427.17 349.79)" font-family="Liberation Sans" font-size="100" fill="#1a1a1a">×</text>
<g transform="matrix(0.0840 0 0 0.1170 433.37 350.64)" fill="#1a1a1a"><path transform="translate(0.00 0) scale(0.04883 -0.04883)" d="M515 0V1237L197 1010V1180L530 1409H696V0Z"/><text x="55.62" font-family="Liberation Sans" font-size="100">0</text></g><g transform="matrix(0.0840 0 0 0.1170 433.57 350.76)" fill="#1a1a1a"><path transform="translate(0.00 0) scale(0.04883 -0.04883)" d="M515 0V1237L197 1010V1180L530 1409H696V0Z"/><text x="55.62" font-family="Liberation Sans" font-size="100">0</text></g>
<text transform="matrix(0.0891 0 0 0.1090 443.65 345.54)" font-family="Liberation Sans" font-size="100" fill="#1a1a1a">6</text><text transform="matrix(0.0891 0 0 0.1090 443.85 345.66)" font-family="Liberation Sans" font-size="100" fill="#1a1a1a">6</text>
</g>
<g transform="matrix(0 -1 1 0 0 222.5)">
<text transform="matrix(0.2158 0 0 0.1290 0.08 10.79)" font-family="Liberation Serif" font-size="100" font-style="italic" fill="#000">f</text>
<text transform="matrix(0.1127 0 0 0.0642 9.02 5.91)" font-family="Liberation Serif" font-size="100" fill="#000">SRI</text><text transform="matrix(0.1127 0 0 0.0642 9.12 5.97)" font-family="Liberation Serif" font-size="100" fill="#000">SRI</text>
<text transform="matrix(0.1054 0 0 0.0850 8.63 14.70)" font-family="Liberation Serif" font-size="100" fill="#000">NL,</text><text transform="matrix(0.1054 0 0 0.0850 8.73 14.75)" font-family="Liberation Serif" font-size="100" fill="#000">NL,</text>
<text transform="matrix(0.1209 0 0 0.0793 24.34 15.05)" font-family="Liberation Serif" font-size="100" font-style="italic" fill="#000">ζ</text>
<text transform="matrix(0.1216 0 0 0.0833 34.48 14.61)" font-family="Liberation Serif" font-size="100" fill="#000">(</text><text transform="matrix(0.1216 0 0 0.0833 34.63 14.70)" font-family="Liberation Serif" font-size="100" fill="#000">(</text>
<text transform="matrix(0.1286 0 0 0.0830 38.78 14.83)" font-family="Liberation Serif" font-size="100" fill="#000">∂</text><text transform="matrix(0.1286 0 0 0.0830 38.93 14.92)" font-family="Liberation Serif" font-size="100" fill="#000">∂</text>
<text transform="matrix(0.0947 0 0 0.0561 44.90 15.76)" font-family="Liberation Serif" font-size="100" font-style="italic" fill="#000">i</text><text transform="matrix(0.0947 0 0 0.0561 45.05 15.85)" font-family="Liberation Serif" font-size="100" font-style="italic" fill="#000">i</text>
<text transform="matrix(0.1116 0 0 0.0759 47.87 14.81)" font-family="Liberation Serif" font-size="100" font-style="italic" fill="#000">ζ</text>
<text transform="matrix(0.1077 0 0 0.0800 53.50 14.38)" font-family="Liberation Serif" font-size="100" fill="#000">)</text><text transform="matrix(0.1077 0 0 0.0800 53.65 14.47)" font-family="Liberation Serif" font-size="100" fill="#000">)</text>
<text transform="matrix(0.0850 0 0 0.0735 56.84 12.86)" font-family="Liberation Serif" font-size="100" fill="#000">2</text><text transform="matrix(0.0850 0 0 0.0735 56.99 12.95)" font-family="Liberation Serif" font-size="100" fill="#000">2</text>
<text transform="matrix(0.1412 0 0 0.1278 62.29 11.07)" font-family="Liberation Serif" font-size="100" fill="#000">(</text><text transform="matrix(0.1412 0 0 0.1278 62.44 11.16)" font-family="Liberation Serif" font-size="100" fill="#000">(</text>
<text transform="matrix(0.1628 0 0 0.1203 67.01 11.20)" font-family="Liberation Serif" font-size="100" font-style="italic" fill="#000">k</text>
<text transform="matrix(0.1269 0 0 0.1278 76.54 11.07)" font-family="Liberation Serif" font-size="100" fill="#000">)</text><text transform="matrix(0.1269 0 0 0.1278 76.69 11.16)" font-family="Liberation Serif" font-size="100" fill="#000">)</text>
</g>
</svg></body></html>
